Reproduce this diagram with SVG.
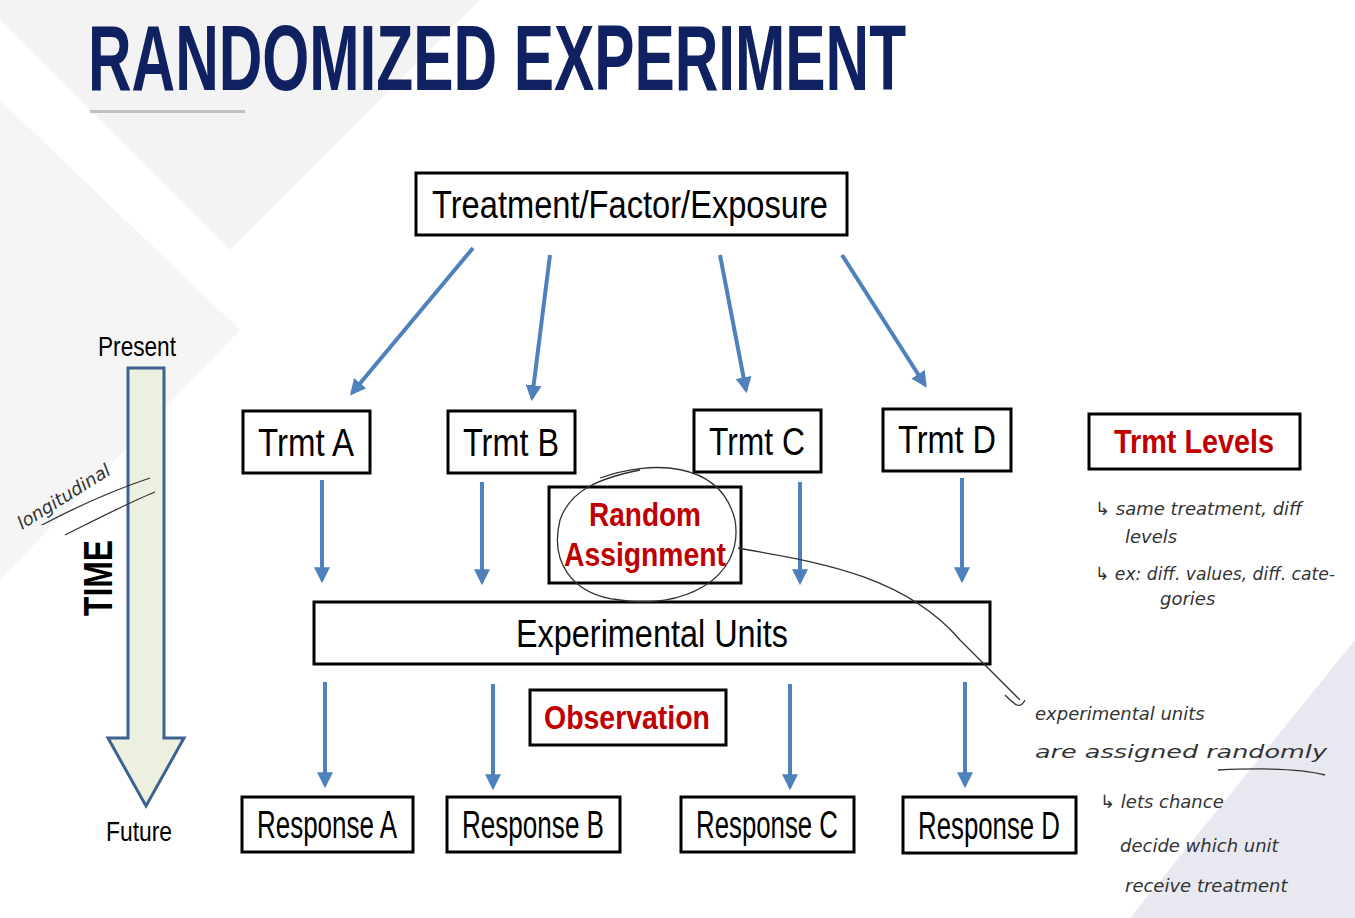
<svg xmlns="http://www.w3.org/2000/svg" width="1355" height="918" viewBox="0 0 1355 918">
<defs>
<style>
.t{font-family:"Liberation Sans","DejaVu Sans",sans-serif;}
.box{fill:#fff;stroke:#000;stroke-width:3}
.lbl{font-size:38px;fill:#000;text-anchor:middle}
.red{font-size:34px;fill:#c00000;font-weight:bold;text-anchor:middle}
.con{stroke:#4f81bd;stroke-width:4;fill:none;marker-end:url(#ah)}
.hw{font-family:"DejaVu Sans","Liberation Sans",sans-serif;font-style:italic;font-size:18px;fill:#333}
.ink{stroke:#333;stroke-width:1.3;fill:none}
</style>
<marker id="ah" viewBox="0 0 10 10" refX="8" refY="5" markerWidth="4" markerHeight="4" orient="auto"><path d="M0,0L10,5L0,10z" fill="#4f81bd"/></marker>
</defs>
<rect width="1355" height="918" fill="#fff"/>
<g id="background">
<polygon points="0,0 480,0 230,250 0,20" fill="#f3f3f3"/>
<polygon points="0,100 240,330 0,580" fill="#f5f5f5"/>
<polygon points="1355,640 1355,918 1130,918" fill="#e8e9f0"/>
</g>
<g id="title">
<text class="t" x="88" y="90" font-size="92" font-weight="bold" fill="#0f2160" textLength="818" lengthAdjust="spacingAndGlyphs">RANDOMIZED EXPERIMENT</text>
<rect x="90" y="110" width="155" height="3" fill="#c0c0c0"/>
</g>
<g id="time">
<polygon points="128,368 164,368 164,738 184,738 146,806 108,738 128,738" fill="#ebf1de" stroke="#3d6191" stroke-width="3"/>
<text class="t" x="137" y="356" font-size="28" text-anchor="middle" textLength="78" lengthAdjust="spacingAndGlyphs">Present</text>
<text class="t" x="139" y="841" font-size="28" text-anchor="middle" textLength="66" lengthAdjust="spacingAndGlyphs">Future</text>
<text class="t" transform="translate(112,578) rotate(-90)" font-size="40" font-weight="bold" text-anchor="middle" textLength="76" lengthAdjust="spacingAndGlyphs">TIME</text>
<text class="hw" transform="translate(22,530) rotate(-32)">longitudinal</text>
<path class="ink" d="M42,525 C80,505 120,488 150,478 M65,535 C95,520 130,502 155,492"/>
</g>
<g id="connectors">
<line class="con" x1="473" y1="248" x2="352" y2="393"/>
<line class="con" x1="550" y1="255" x2="532" y2="398"/>
<line class="con" x1="720" y1="255" x2="746" y2="390"/>
<line class="con" x1="842" y1="255" x2="925" y2="385"/>
<line class="con" x1="322" y1="480" x2="322" y2="580"/>
<line class="con" x1="482" y1="482" x2="482" y2="582"/>
<line class="con" x1="800" y1="482" x2="800" y2="582"/>
<line class="con" x1="962" y1="478" x2="962" y2="580"/>
<line class="con" x1="325" y1="682" x2="325" y2="785"/>
<line class="con" x1="493" y1="684" x2="493" y2="787"/>
<line class="con" x1="790" y1="684" x2="790" y2="787"/>
<line class="con" x1="965" y1="682" x2="965" y2="785"/>
</g>
<g id="n-treat"><rect class="box" x="416" y="173" width="431" height="62"/><text class="t lbl" x="630" y="218" textLength="396" lengthAdjust="spacingAndGlyphs">Treatment/Factor/Exposure</text></g>
<g id="n-a"><rect class="box" x="243" y="411" width="127" height="62"/><text class="t lbl" x="306" y="456" textLength="96" lengthAdjust="spacingAndGlyphs">Trmt A</text></g>
<g id="n-b"><rect class="box" x="448" y="411" width="127" height="62"/><text class="t lbl" x="511" y="456" textLength="96" lengthAdjust="spacingAndGlyphs">Trmt B</text></g>
<g id="n-c"><rect class="box" x="694" y="410" width="127" height="62"/><text class="t lbl" x="757" y="455" textLength="96" lengthAdjust="spacingAndGlyphs">Trmt C</text></g>
<g id="n-d"><rect class="box" x="883" y="409" width="128" height="62"/><text class="t lbl" x="947" y="453" textLength="98" lengthAdjust="spacingAndGlyphs">Trmt D</text></g>
<g id="n-levels"><rect class="box" x="1089" y="414" width="211" height="55"/><text class="t red" x="1194" y="453" textLength="160" lengthAdjust="spacingAndGlyphs">Trmt Levels</text></g>
<g id="n-random"><rect class="box" x="549" y="487" width="192" height="96"/><text class="t red" x="645" y="526" textLength="112" lengthAdjust="spacingAndGlyphs">Random</text><text class="t red" x="645" y="566" textLength="162" lengthAdjust="spacingAndGlyphs">Assignment</text></g>
<g id="n-units"><rect class="box" x="314" y="602" width="676" height="62"/><text class="t lbl" x="652" y="647" textLength="272" lengthAdjust="spacingAndGlyphs">Experimental Units</text></g>
<g id="n-obs"><rect class="box" x="530" y="690" width="196" height="55"/><text class="t red" x="627" y="729" textLength="166" lengthAdjust="spacingAndGlyphs">Observation</text></g>
<g id="n-ra"><rect class="box" x="242" y="797" width="171" height="55"/><text class="t lbl" x="327" y="838" textLength="140" lengthAdjust="spacingAndGlyphs">Response A</text></g>
<g id="n-rb"><rect class="box" x="447" y="797" width="173" height="55"/><text class="t lbl" x="533" y="838" textLength="142" lengthAdjust="spacingAndGlyphs">Response B</text></g>
<g id="n-rc"><rect class="box" x="681" y="797" width="173" height="55"/><text class="t lbl" x="767" y="838" textLength="142" lengthAdjust="spacingAndGlyphs">Response C</text></g>
<g id="n-rd"><rect class="box" x="903" y="797" width="173" height="56"/><text class="t lbl" x="989" y="839" textLength="142" lengthAdjust="spacingAndGlyphs">Response D</text></g>
<g id="annotations">
<path class="ink" d="M600,478 C650,460 720,460 735,520 C745,580 680,610 620,600 C570,595 550,560 560,520 C570,490 600,478 640,470 M738,548 C800,560 900,570 960,640 C990,670 1010,690 1020,700 M1005,695 C1015,705 1020,710 1025,700"/>
<text class="hw" x="1095" y="515">↳ same treatment, diff</text>
<text class="hw" x="1125" y="543">levels</text>
<text class="hw" x="1095" y="580" textLength="240" lengthAdjust="spacingAndGlyphs">↳ ex: diff. values, diff. cate-</text>
<text class="hw" x="1160" y="605">gories</text>
<text class="hw" x="1035" y="720" font-size="24">experimental units</text>
<text class="hw" x="1035" y="758" font-size="24" textLength="292" lengthAdjust="spacingAndGlyphs">are assigned randomly</text>
<path class="ink" d="M1218,770 C1260,768 1300,768 1325,775"/>
<text class="hw" x="1100" y="808" font-size="24">↳ lets chance</text>
<text class="hw" x="1120" y="852" font-size="24">decide which unit</text>
<text class="hw" x="1125" y="892" font-size="24">receive treatment</text>
</g>
</svg>
